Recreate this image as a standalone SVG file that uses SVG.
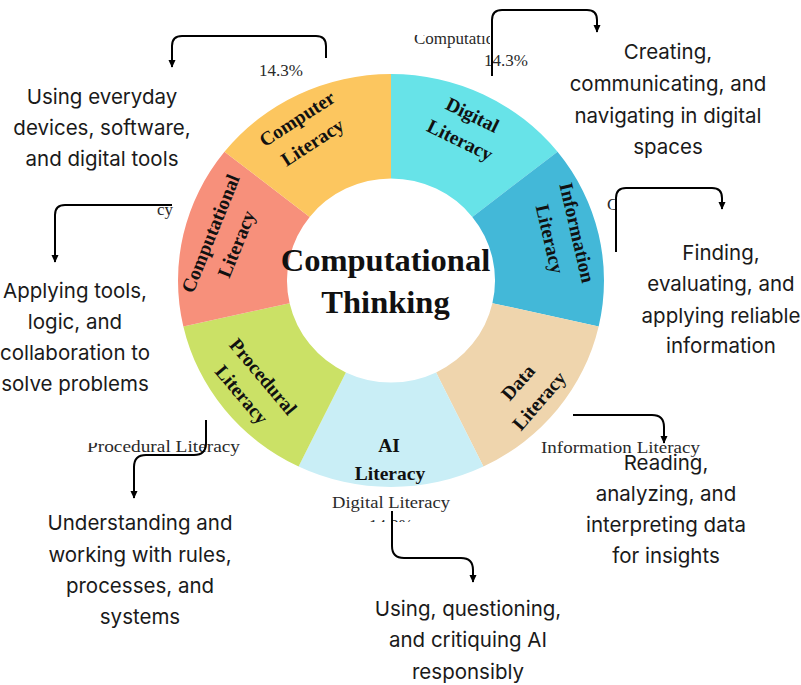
<svg xmlns="http://www.w3.org/2000/svg" width="801" height="685" viewBox="0 0 801 685">
<defs>
<style>
.seg-label{font-family:"Liberation Serif","Times New Roman",serif;font-weight:bold;font-size:19.5px;fill:#111;text-anchor:middle}
.center{font-family:"Liberation Serif","Times New Roman",serif;font-weight:bold;font-size:32.5px;fill:#111;text-anchor:middle}
.desc{font-family:Inter,"Open Sans","Liberation Sans",sans-serif;font-size:20.5px;fill:#1a1a1a;text-anchor:middle}
.frag{font-family:"Liberation Serif","Times New Roman",serif;font-size:17px;fill:#2a2a2a}
.conn{fill:none;stroke:#000;stroke-width:2;marker-end:url(#arrow)}
</style>
<marker id="arrow" viewBox="0 0 10 10" refX="9" refY="5" markerWidth="8" markerHeight="8" markerUnits="userSpaceOnUse" orient="auto">
<path d="M0,0.5 L10,5 L0,9.5 z" fill="#000"/>
</marker>
<clipPath id="clipTop"><rect x="405" y="35" width="85" height="20"/></clipPath>
<clipPath id="clipIcy"><rect x="157" y="195" width="30" height="30"/></clipPath>
<clipPath id="clipC"><rect x="600" y="190" width="16" height="30"/></clipPath>
<clipPath id="clipProc"><polygon points="80,443.5 130,441.5 150,438 260,432 260,465 80,465"/></clipPath>
<clipPath id="clipPct"><rect x="360" y="518" width="60" height="4"/></clipPath>
</defs>
<rect width="801" height="685" fill="#fff"/>

<g id="ring">
<g id="seg-digital"><path d="M391,74 A213,206.5 0 0 1 557.53,151.75 L472.31,216.9 A104,102 0 0 0 391,178.5 Z" fill="#67E3E8"/>
<text class="seg-label" transform="translate(466,128) rotate(26)"><tspan x="0" y="-8">Digital</tspan><tspan x="0" y="20">Literacy</tspan></text></g>
<g id="seg-information"><path d="M557.53,151.75 A213,206.5 0 0 1 598.66,326.45 L492.39,303.2 A104,102 0 0 0 472.31,216.9 Z" fill="#43B8D8"/>
<text class="seg-label" transform="translate(563,236) rotate(77)"><tspan x="0" y="-8">Information</tspan><tspan x="0" y="20">Literacy</tspan></text></g>
<g id="seg-data"><path d="M598.66,326.45 A213,206.5 0 0 1 483.42,466.55 L436.12,372.4 A104,102 0 0 0 492.39,303.2 Z" fill="#EFD5AD"/>
<text class="seg-label" transform="translate(529,392) rotate(-49)"><tspan x="0" y="-8">Data</tspan><tspan x="0" y="20">Literacy</tspan></text></g>
<g id="seg-ai"><path d="M483.42,466.55 A213,206.5 0 0 1 298.58,466.55 L345.88,372.4 A104,102 0 0 0 436.12,372.4 Z" fill="#C9EEF6"/>
<text class="seg-label"><tspan x="389" y="452">AI</tspan><tspan x="390" y="480">Literacy</tspan></text></g>
<g id="seg-procedural"><path d="M298.58,466.55 A213,206.5 0 0 1 183.34,326.45 L289.61,303.2 A104,102 0 0 0 345.88,372.4 Z" fill="#CBE166"/>
<text class="seg-label" transform="translate(252,386) rotate(50)"><tspan x="0" y="-8">Procedural</tspan><tspan x="0" y="20">Literacy</tspan></text></g>
<g id="seg-computational"><path d="M183.34,326.45 A213,206.5 0 0 1 224.47,151.75 L309.69,216.9 A104,102 0 0 0 289.61,303.2 Z" fill="#F7907B"/>
<text class="seg-label" transform="translate(224,239) rotate(-68)"><tspan x="0" y="-8">Computational</tspan><tspan x="0" y="20">Literacy</tspan></text></g>
<g id="seg-computer"><path d="M224.47,151.75 A213,206.5 0 0 1 391,74 L391,178.5 A104,102 0 0 0 309.69,216.9 Z" fill="#FCC65F"/>
<text class="seg-label" transform="translate(305,131) rotate(-33)"><tspan x="0" y="-8">Computer</tspan><tspan x="0" y="20">Literacy</tspan></text></g>
</g>

<g id="center-title">
<text class="center"><tspan x="385.5" y="271">Computational</tspan><tspan x="385.5" y="313">Thinking</tspan></text>
</g>

<g id="fragments">
<text class="frag" x="281" y="76" text-anchor="middle">14.3%</text>
<text class="frag" x="506" y="66" text-anchor="middle">14.3%</text>
<text class="frag" x="414" y="44" clip-path="url(#clipTop)">Computational Literacy</text>
<text class="frag" x="173" y="215" text-anchor="end" clip-path="url(#clipIcy)">Literacy</text>
<text class="frag" x="607" y="210" clip-path="url(#clipC)">C</text>
<text class="frag" x="87" y="452" textLength="153" lengthAdjust="spacingAndGlyphs" clip-path="url(#clipProc)">Procedural Literacy</text>
<text class="frag" x="541" y="453" textLength="159" lengthAdjust="spacingAndGlyphs">Information Literacy</text>
<text class="frag" x="332" y="508" textLength="118" lengthAdjust="spacingAndGlyphs">Digital Literacy</text>
<text class="frag" x="391" y="531" text-anchor="middle" clip-path="url(#clipPct)">14.3%</text>
</g>

<g id="connectors">
<path class="conn" d="M326,58 V46 Q326,36 316,36 H182 Q172,36 172,46 V67"/>
<path class="conn" d="M492,76 V20 Q492,10 502,10 H587 Q597,10 597,20 V32"/>
<path class="conn" d="M616,252 V198 Q616,188 626,188 H712 Q722,188 722,198 V209"/>
<path class="conn" d="M172,205 H65 Q55,205 55,215 V262"/>
<path class="conn" d="M206,420 V443 Q206,455 194,455 H146 Q134,455 134,467 V498"/>
<path class="conn" d="M392,511 V546 Q392,558 404,558 H461 Q473,558 473,570 V582"/>
<path class="conn" d="M573,415 H652 Q664,415 664,427 V443"/>
</g>

<g id="desc-computer"><text class="desc"><tspan x="102" y="104">Using everyday</tspan><tspan x="102" y="135">devices, software,</tspan><tspan x="102" y="166">and digital tools</tspan></text></g>
<g id="desc-digital"><text class="desc"><tspan x="668" y="59">Creating,</tspan><tspan x="668" y="91">communicating, and</tspan><tspan x="668" y="123">navigating in digital</tspan><tspan x="668" y="154">spaces</tspan></text></g>
<g id="desc-information"><text class="desc"><tspan x="721" y="260">Finding,</tspan><tspan x="721" y="291">evaluating, and</tspan><tspan x="721" y="323">applying reliable</tspan><tspan x="721" y="353">information</tspan></text></g>
<g id="desc-computational"><text class="desc"><tspan x="75" y="298">Applying tools,</tspan><tspan x="75" y="329">logic, and</tspan><tspan x="75" y="360">collaboration to</tspan><tspan x="75" y="391">solve problems</tspan></text></g>
<g id="desc-procedural"><text class="desc"><tspan x="140" y="530">Understanding and</tspan><tspan x="140" y="562">working with rules,</tspan><tspan x="140" y="593">processes, and</tspan><tspan x="140" y="624">systems</tspan></text></g>
<g id="desc-data"><text class="desc"><tspan x="666" y="470">Reading,</tspan><tspan x="666" y="501">analyzing, and</tspan><tspan x="666" y="532">interpreting data</tspan><tspan x="666" y="563">for insights</tspan></text></g>
<g id="desc-ai"><text class="desc"><tspan x="468" y="616">Using, questioning,</tspan><tspan x="468" y="647">and critiquing AI</tspan><tspan x="468" y="679">responsibly</tspan></text></g>
</svg>
